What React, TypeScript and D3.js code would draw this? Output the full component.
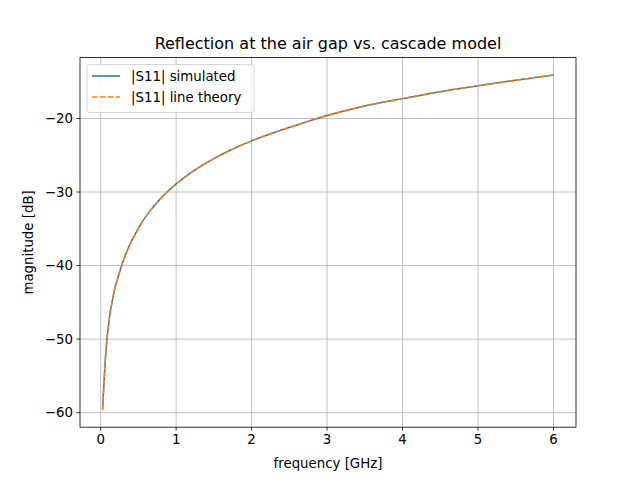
import * as d3 from 'd3';

// values
const freqGHz = [0.025, 0.04, 0.057, 0.079, 0.1, 0.123, 0.15, 0.189, 0.23, 0.265, 0.32, 0.388, 0.46, 0.542, 0.652, 0.784, 0.87, 1.0, 1.27, 1.5, 1.71, 2.0, 2.415, 2.64, 3.0, 3.5, 4.0, 4.5, 5.0, 5.5, 6.0];
const s11Simulated = [-59.6, -56.7, -53.6, -50.5, -48.5, -46.6, -45.0, -43.1, -41.6, -40.4, -38.8, -37.1, -35.7, -34.2, -32.6, -31.0, -30.1, -28.9, -26.85, -25.45, -24.35, -23.05, -21.5, -20.75, -19.6, -18.3, -17.3, -16.35, -15.55, -14.8, -14.1];
const s11Theory = s11Simulated.slice();
const xTicks = [0, 1, 2, 3, 4, 5, 6];
const yTicks = [-60, -50, -40, -30, -20];
const seriesNames = ['|S11| simulated', '|S11| line theory'];
const seriesColors = ['#1f77b4', '#ff7f0e'];

const W = 640;
const H = 480;
const M = { left: 80, right: 64, top: 57.6, bottom: 52.8 };

export default function App() {
  const x = d3.scaleLinear().domain([-0.2738, 6.2988]).range([M.left, W - M.right]);
  const y = d3.scaleLinear().domain([-61.98, -11.72]).range([H - M.bottom, M.top]);
  const line = d3
    .line<number>()
    .x((_, i) => x(freqGHz[i]))
    .y((d) => y(d))
    .curve(d3.curveMonotoneX);
  const font = 'DejaVu Sans, sans-serif';
  const minus = (v: number) => String(v).replace('-', '\u2212');
  const x0 = M.left;
  const x1 = W - M.right;
  const y0 = M.top;
  const y1 = H - M.bottom;

  return (
    <svg width={W} height={H} style={{ position: 'absolute', left: 0, top: 0 }} fontFamily={font}>
      <rect width={W} height={H} fill="white" />
      {/* grid */}
      {xTicks.map((t) => (
        <line key={'gx' + t} x1={x(t)} x2={x(t)} y1={y0} y2={y1} stroke="#b0b0b0" strokeWidth={0.8} />
      ))}
      {yTicks.map((t) => (
        <line key={'gy' + t} x1={x0} x2={x1} y1={y(t)} y2={y(t)} stroke="#b0b0b0" strokeWidth={0.8} />
      ))}
      {/* series */}
      <path d={line(s11Simulated) || ''} fill="none" stroke={seriesColors[0]} strokeWidth={1.5} />
      <path d={line(s11Theory) || ''} fill="none" stroke={seriesColors[1]} strokeWidth={1.5} strokeDasharray="5.55,2.4" />
      {/* frame */}
      <rect x={x0} y={y0} width={x1 - x0} height={y1 - y0} fill="none" stroke="black" strokeWidth={0.8} />
      {/* x ticks */}
      {xTicks.map((t) => (
        <g key={'tx' + t}>
          <line x1={x(t)} x2={x(t)} y1={y1} y2={y1 + 3.5} stroke="black" strokeWidth={0.8} />
          <text x={x(t)} y={y1 + 17} fontSize={13.33} textAnchor="middle">{t}</text>
        </g>
      ))}
      {yTicks.map((t) => (
        <g key={'ty' + t}>
          <line x1={x0 - 3.5} x2={x0} y1={y(t)} y2={y(t)} stroke="black" strokeWidth={0.8} />
          <text x={x0 - 7} y={y(t) + 4.8} fontSize={13.33} textAnchor="end">{minus(t)}</text>
        </g>
      ))}
      {/* labels */}
      <text x={(x0 + x1) / 2} y={468} fontSize={13.33} textAnchor="middle">frequency [GHz]</text>
      <text transform={`translate(33,${(y0 + y1) / 2}) rotate(-90)`} fontSize={13.33} textAnchor="middle">magnitude [dB]</text>
      <text x={(x0 + x1) / 2} y={49} fontSize={16} textAnchor="middle">Reflection at the air gap vs. cascade model</text>
      {/* legend */}
      <rect x={87} y={64.5} width={167} height={48} rx={3} fill="white" fillOpacity={0.8} stroke="#cccccc" strokeWidth={0.8} />
      {seriesNames.map((name, i) => (
        <g key={name}>
          <line
            x1={92} x2={120} y1={76 + i * 21} y2={76 + i * 21}
            stroke={seriesColors[i]} strokeWidth={1.5}
            strokeDasharray={i === 1 ? '5.55,2.4' : undefined}
          />
          <text x={131} y={81 + i * 21} fontSize={13.33}>{name}</text>
        </g>
      ))}
    </svg>
  );
}
